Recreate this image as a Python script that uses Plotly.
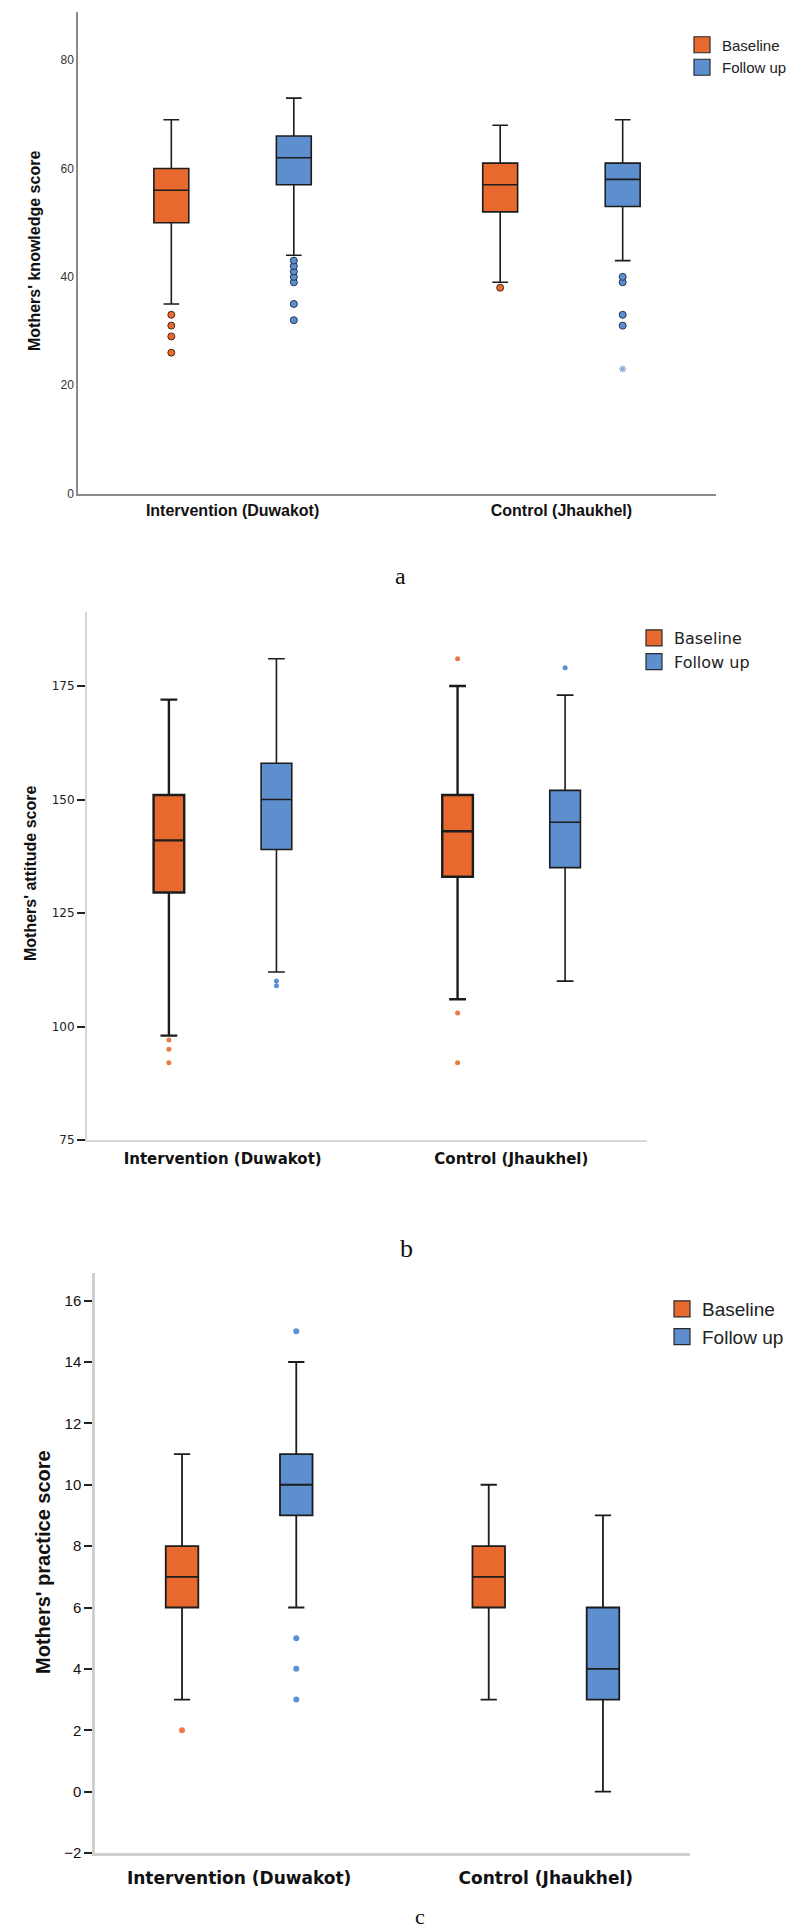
import plotly.graph_objects as go

W, H = 800, 1926

categories = ["Intervention (Duwakot)", "Control (Jhaukhel)"]
series_names = ["Baseline", "Follow up"]

# ---- Panel a: Mothers' knowledge score ----
know_base_q1 = [50, 52]
know_base_median = [56, 57]
know_base_q3 = [60, 61]
know_base_low = [35, 39]
know_base_high = [69, 68]
know_base_outliers = [[33, 31, 29, 26], [38]]

know_fu_q1 = [57, 53]
know_fu_median = [62, 58]
know_fu_q3 = [66, 61]
know_fu_low = [44, 43]
know_fu_high = [73, 69]
know_fu_outliers = [[43, 42, 41, 40, 39, 35, 32], [40, 39, 33, 31]]
know_fu_extreme = [[23]]          # Control (Jhaukhel), follow up (star)
know_extreme_cat = ["Control (Jhaukhel)"]

# ---- Panel b: Mothers' attitude score ----
att_base_q1 = [129.5, 133]
att_base_median = [141, 143]
att_base_q3 = [151, 151]
att_base_low = [98, 106]
att_base_high = [172, 175]
att_base_outliers = [[97, 95, 92], [181, 103, 92]]

att_fu_q1 = [139, 135]
att_fu_median = [150, 145]
att_fu_q3 = [158, 152]
att_fu_low = [112, 110]
att_fu_high = [181, 173]
att_fu_outliers = [[110, 109], [179]]

# ---- Panel c: Mothers' practice score ----
pr_base_q1 = [6, 6]
pr_base_median = [7, 7]
pr_base_q3 = [8, 8]
pr_base_low = [3, 3]
pr_base_high = [11, 10]
pr_base_outliers = [[2], []]

pr_fu_q1 = [9, 3]
pr_fu_median = [10, 4]
pr_fu_q3 = [11, 6]
pr_fu_low = [6, 0]
pr_fu_high = [14, 9]
pr_fu_outliers = [[15, 5, 4, 3], []]

ORANGE = "#E8692D"
BLUE = "#5D8FCF"
ARIAL = "Liberation Sans, Arial, sans-serif"
WIDE = "DejaVu Sans, Verdana, sans-serif"
SERIF = "Liberation Serif, Times New Roman, serif"


def px_x(x):
    return x / W


def px_y(y):
    return 1 - y / H


fig = go.Figure()


def add_box(xa, ya, name, color, q1, med, q3, lo, hi, pts, lw, ww, marker, group,
            cats=categories, linecolor="#1c1c1c", fill=None):
    fig.add_trace(go.Box(
        x=cats, q1=q1, median=med, q3=q3, lowerfence=lo, upperfence=hi,
        y=pts, orientation="v", boxpoints="outliers", name=name,
        fillcolor=fill if fill is not None else color,
        line=dict(color=linecolor, width=lw), whiskerwidth=ww,
        marker=marker, offsetgroup=group, xaxis=xa, yaxis=ya,
        showlegend=False, hoverinfo="y"))


# Panel a boxes
add_box("x", "y", series_names[0], ORANGE, know_base_q1, know_base_median, know_base_q3,
        know_base_low, know_base_high, know_base_outliers, 1.6, 0.45,
        dict(color=ORANGE, size=7, line=dict(color="#4a2a18", width=1)), "base")
add_box("x", "y", series_names[1], BLUE, know_fu_q1, know_fu_median, know_fu_q3,
        know_fu_low, know_fu_high, know_fu_outliers, 1.6, 0.45,
        dict(color=BLUE, size=7, line=dict(color="#1f3357", width=1)), "follow")
# extreme value (star) for control follow-up
add_box("x", "y", series_names[1], BLUE, [know_fu_q1[1]], [know_fu_median[1]], [know_fu_q3[1]],
        [know_fu_low[1]], [know_fu_high[1]], know_fu_extreme, 0, 0.45,
        dict(color="#8FAFD8", size=6, symbol="asterisk-open", line=dict(color="#8FAFD8", width=1.2)),
        "follow", cats=know_extreme_cat, linecolor="rgba(0,0,0,0)", fill="rgba(0,0,0,0)")

# Panel b boxes
add_box("x2", "y2", series_names[0], ORANGE, att_base_q1, att_base_median, att_base_q3,
        att_base_low, att_base_high, att_base_outliers, 2.4, 0.55,
        dict(color="#EC7A45", size=5), "base")
add_box("x2", "y2", series_names[1], BLUE, att_fu_q1, att_fu_median, att_fu_q3,
        att_fu_low, att_fu_high, att_fu_outliers, 1.6, 0.55,
        dict(color="#5B8FD6", size=5), "follow")

# Panel c boxes
add_box("x3", "y3", series_names[0], ORANGE, pr_base_q1, pr_base_median, pr_base_q3,
        pr_base_low, pr_base_high, pr_base_outliers, 1.8, 0.5,
        dict(color="#EC7A45", size=6), "base")
add_box("x3", "y3", series_names[1], BLUE, pr_fu_q1, pr_fu_median, pr_fu_q3,
        pr_fu_low, pr_fu_high, pr_fu_outliers, 1.8, 0.5,
        dict(color="#5B8FD6", size=6), "follow")

# Legend entries (one legend per panel)
for xa, ya, lg in [("x", "y", "legend"), ("x2", "y2", "legend2"), ("x3", "y3", "legend3")]:
    for nm, col in zip(series_names, [ORANGE, BLUE]):
        fig.add_trace(go.Scatter(
            x=[None], y=[None], mode="markers", name=nm, xaxis=xa, yaxis=ya, legend=lg,
            marker=dict(symbol="square", size=16, color=col, line=dict(color="#2a2a2a", width=1.2)),
            showlegend=True, hoverinfo="skip"))

XR = [-0.47, 1.47]


def xaxis(domain, anchor, linecolor, linewidth, font, standoff):
    return dict(domain=domain, anchor=anchor, type="category",
                categoryorder="array", categoryarray=categories, range=XR,
                showline=True, linecolor=linecolor, linewidth=linewidth,
                ticks="", showgrid=False, zeroline=False, tickfont=font,
                ticklabelstandoff=standoff, fixedrange=True)


def yaxis(domain, anchor, rng, dtick, tick0, linecolor, linewidth, ticks, font):
    return dict(domain=domain, anchor=anchor, range=rng, dtick=dtick, tick0=tick0,
                showline=True, linecolor=linecolor, linewidth=linewidth,
                ticks=ticks, ticklen=8, tickwidth=2, tickcolor="#222",
                showgrid=False, zeroline=False, tickfont=font, fixedrange=True)


def legend(x, y, font):
    return dict(x=x, xanchor="left", y=y, yanchor="middle", font=font, itemwidth=30,
                bgcolor="rgba(0,0,0,0)", tracegroupgap=0, borderwidth=0)


fig.update_layout(
    width=W, height=H,
    margin=dict(l=0, r=0, t=0, b=0, autoexpand=False),
    paper_bgcolor="white", plot_bgcolor="white",
    boxmode="group", boxgap=0.255, boxgroupgap=0.715,
    xaxis=xaxis([px_x(70), px_x(708)], "y", "#8a8a8a", 1.5,
                dict(family=ARIAL, size=16, color="#111", weight="bold"), 2),
    yaxis=yaxis([px_y(485.5), px_y(3.5)], "x", [0, 89], 20, 0, "#8a8a8a", 1.5, "",
                dict(family=ARIAL, size=12, color="#333")),
    xaxis2=xaxis([px_x(79), px_x(639)], "y2", "#d6d6d6", 2,
                 dict(family=WIDE, size=15, color="#111", weight="bold"), 4),
    yaxis2=yaxis([px_y(1132), px_y(604)], "x2", [75, 191.3], 25, 75, "#d6d6d6", 2, "outside",
                 dict(family=WIDE, size=12, color="#222")),
    xaxis3=xaxis([px_x(87), px_x(682)], "y3", "#d0d0d0", 2.5,
                 dict(family=WIDE, size=17, color="#111", weight="bold"), 8),
    yaxis3=yaxis([px_y(1845), px_y(1265)], "x3", [-2, 16.9], 2, 0, "#d0d0d0", 2.5, "outside",
                 dict(family=ARIAL, size=15, color="#111")),
    legend=legend(px_x(674), px_y(48), dict(family=ARIAL, size=15, color="#222")),
    legend2=legend(px_x(626), px_y(642), dict(family=WIDE, size=16, color="#222")),
    legend3=legend(px_x(654), px_y(1315), dict(family=ARIAL, size=19, color="#222")),
    showlegend=True,
)

annotations = [
    dict(text="Mothers' knowledge score", x=px_x(27), y=px_y(243), textangle=-90,
         font=dict(family=ARIAL, size=16, color="#111", weight="bold")),
    dict(text="Mothers' attitude score", x=px_x(22), y=px_y(866), textangle=-90,
         font=dict(family=ARIAL, size=16, color="#111", weight="bold")),
    dict(text="Mothers' practice score", x=px_x(35), y=px_y(1554), textangle=-90,
         font=dict(family=ARIAL, size=20, color="#111", weight="bold")),
    dict(text="a", x=px_x(392), y=px_y(568), font=dict(family=SERIF, size=24, color="#111")),
    dict(text="b", x=px_x(398), y=px_y(1240), font=dict(family=SERIF, size=26, color="#111")),
    dict(text="c", x=px_x(412), y=px_y(1908), font=dict(family=SERIF, size=22, color="#111")),
]
for a in annotations:
    a.update(xref="paper", yref="paper", showarrow=False, xanchor="center", yanchor="middle")
fig.update_layout(annotations=annotations)

fig.write_html("out.html")
